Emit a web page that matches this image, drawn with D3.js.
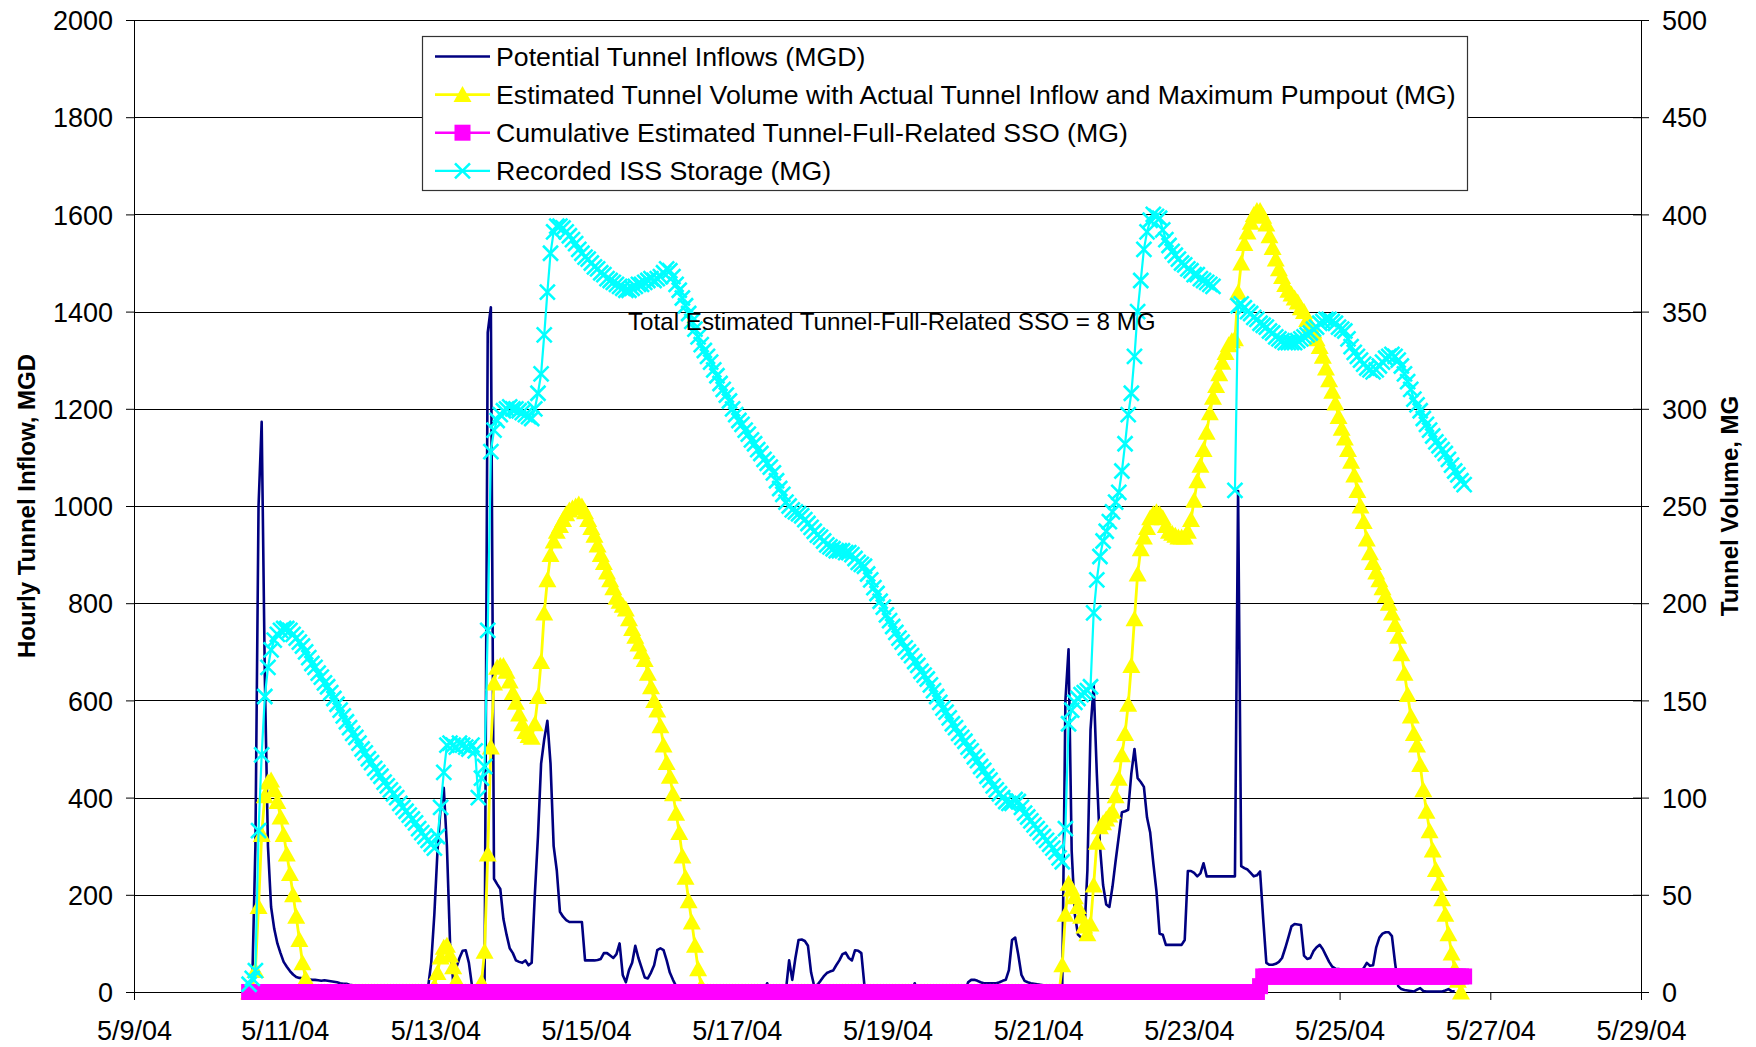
<!DOCTYPE html>
<html><head><meta charset="utf-8">
<script src="https://cdn.jsdelivr.net/npm/d3@7"></script>
<style>
html,body{margin:0;padding:0;background:#fff;}
svg{display:block;font-family:"Liberation Sans",Arial,sans-serif;}
</style></head>
<body><svg id="chart" width="1756" height="1047"></svg>
<script>
// ---------- data ----------
const seriesStart = "2004-05-10T12:40:00Z"; // first hourly reading
const xDomain = ["2004-05-09T00:00:00Z", "2004-05-29T00:00:00Z"];
const xTickDates = ["2004-05-09","2004-05-11","2004-05-13","2004-05-15","2004-05-17","2004-05-19","2004-05-21","2004-05-23","2004-05-25","2004-05-27","2004-05-29"];
const xTickLabels = ["5/9/04","5/11/04","5/13/04","5/15/04","5/17/04","5/19/04","5/21/04","5/23/04","5/25/04","5/27/04","5/29/04"];
const leftTicks = [0,200,400,600,800,1000,1200,1400,1600,1800,2000];
const rightTicks = [0,50,100,150,200,250,300,350,400,450,500];
const seriesNames = [
  "Potential Tunnel Inflows (MGD)",
  "Estimated Tunnel Volume with Actual Tunnel Inflow and Maximum Pumpout (MG)",
  "Cumulative Estimated Tunnel-Full-Related SSO (MG)",
  "Recorded ISS Storage (MG)"
];
const leftTitle = "Hourly Tunnel Inflow, MGD";
const rightTitle = "Tunnel Volume, MG";
const annotationText = "Total Estimated Tunnel-Full-Related SSO = 8 MG";

// Potential Tunnel Inflows (MGD), hourly
const inflowMGD = [
5,20,300,1000,1173,650,300,175,130,100,
80,62,52,43,36,31,29,28,27,26,
25,25,24,23,24,23,22,21,20,18,
17,17,15,14,12,10,8,6,4,2,
0,0,0,0,0,0,0,0,0,0,
0,0,0,0,0,0,0,
10,60,160,290,380,420,300,100,20,50,
70,85,86,60,12,0,0,0,20,1357,
1409,233,222,
212,150,118,90,80,65,62,60,65,55,
60,200,320,470,520,558,470,300,250,165,
155,148,144,144,144,144,144,65,65,65,
65,66,68,80,80,75,70,78,100,35,
20,45,60,95,70,50,30,28,40,55,
86,90,86,65,40,25,12,
0,0,0,0,0,0,0,0,0,0,
0,0,0,0,0,0,0,0,0,0,
0,0,0,0,0,0,0,0,
18,0,0,0,0,0,5,65,25,70,
107,108,105,95,40,12,15,23,32,39,
42,44,55,65,78,81,70,65,86,85,
80,12,
0,0,0,0,0,0,0,0,0,0,
0,0,0,0,0,
18,
0,0,0,0,0,0,0,0,0,0,
0,0,0,0,0,0,
20,25,25,23,20,18,18,18,18,18,
20,23,25,45,107,112,76,35,23,20,
18,17,16,15,14,13,13,12,12,12,
15,600,705,290,160,118,112,115,250,540,
632,450,300,220,180,175,217,270,320,370,
372,375,450,500,440,432,422,359,328,265,
207,120,118,97,97,97,97,97,97,107,
249,249,245,238,244,265,238,238,238,238,
238,238,238,238,238,238,1031,259,255,252,
245,238,240,248,150,60,56,56,58,62,
70,90,112,135,140,139,138,75,68,
70,84,92,97,88,75,62,52,48,47,
46,45,44,42,40,40,42,49,60,54,
55,92,112,120,123,123,115,60,12,6,
4,3,2,1,5,8,2,1,1,1,
1,1,1,3,6,2,1,null,null,null
];

// Estimated Tunnel Volume with Actual Tunnel Inflow and Maximum Pumpout (MG), hourly
const tunnelVolumeMG = [
0,2,11,44,81,101,108,109,104,98,
90,81,71,61,50,39,27,15,7,
0,0,0,0,0,0,0,0,0,0,
0,0,0,0,0,0,0,0,0,0,
0,0,0,0,0,0,0,0,0,0,
0,0,0,0,0,0,0,0,0,0,
3,10,18,23,24,19,13,6,
0,0,0,0,0,0,0,
5,21,71,126,159,167,168,168,165,160,
154,149,143,138,134,132,131,138,152,170,
195,212,225,232,237,240,243,246,248,249,
250,251,250,247,243,239,235,230,225,221,
216,212,208,203,201,199,197,192,187,183,
179,175,171,164,157,150,145,137,127,118,
111,102,92,82,70,59,47,36,24,12,
3,
0,0,0,0,0,0,0,0,0,0,
0,0,0,0,0,0,0,0,0,0,
0,0,0,0,0,0,0,0,0,0,
0,0,0,0,0,0,0,0,0,0,
0,0,0,0,0,0,0,0,0,0,
0,0,0,0,0,0,0,0,0,0,
0,0,0,0,0,0,0,0,0,0,
0,0,0,0,0,0,0,0,0,0,
0,0,0,0,0,0,0,0,0,0,
0,0,0,0,0,0,0,0,0,0,
0,0,0,0,0,0,0,0,0,0,
0,0,0,0,
14,40,56,53,49,44,39,34,30,35,
55,77,85,87,89,91,93,101,110,122,
133,148,168,192,215,228,234,239,244,246,
247,246,244,240,237,236,235,234,234,234,
237,243,253,263,271,279,288,298,306,312,
318,324,329,333,335,336,360,375,385,391,
396,400,402,402,399,395,389,383,377,372,
368,364,361,359,357,355,352,350,346,343,
340,336,332,327,321,315,309,303,296,290,
285,279,273,266,258,250,242,233,226,221,
216,212,208,204,200,195,189,183,174,164,
153,142,133,127,117,104,93,83,73,63,
56,48,40,30,20,12,6,0,
null
];

// Cumulative Estimated Tunnel-Full-Related SSO (MG), hourly
const cumulativeSsoMG = [
0,0,0,0,0,0,0,0,0,0, 0,0,0,0,0,0,0,0,0,0,
0,0,0,0,0,0,0,0,0,0, 0,0,0,0,0,0,0,0,0,0,
0,0,0,0,0,0,0,0,0,0, 0,0,0,0,0,0,0,0,0,0,
0,0,0,0,0,0,0,0,0,0, 0,0,0,0,0,0,0,0,0,0,
0,0,0,0,0,0,0,0,0,0, 0,0,0,0,0,0,0,0,0,0,
0,0,0,0,0,0,0,0,0,0, 0,0,0,0,0,0,0,0,0,0,
0,0,0,0,0,0,0,0,0,0, 0,0,0,0,0,0,0,0,0,0,
0,0,0,0,0,0,0,0,0,0, 0,0,0,0,0,0,0,0,0,0,
0,0,0,0,0,0,0,0,0,0, 0,0,0,0,0,0,0,0,0,0,
0,0,0,0,0,0,0,0,0,0, 0,0,0,0,0,0,0,0,0,0,
0,0,0,0,0,0,0,0,0,0, 0,0,0,0,0,0,0,0,0,0,
0,0,0,0,0,0,0,0,0,0, 0,0,0,0,0,0,0,0,0,0,
0,0,0,0,0,0,0,0,0,0, 0,0,0,0,0,0,0,0,0,0,
0,0,0,0,0,0,0,0,0,0, 0,0,0,0,0,0,0,0,0,0,
0,0,0,0,0,0,0,0,0,0, 0,0,0,0,0,0,0,0,0,0,
0,0,0,0,0,0,0,0,0,0, 0,0,0,0,0,0,0,0,0,0,
0,0,
3,
8,8,8,8,8,8,8,8,8,8, 8,8,8,8,8,8,8,8,8,8,
8,8,8,8,8,8,8,8,8,8, 8,8,8,8,8,8,8,8,8,8,
8,8,8,8,8,8,8,8,8,8, 8,8,8,8,8,8,8,8,8,8,
8,8,8,8,8
];

// Recorded ISS Storage (MG), hourly
const issStorageMG = [
4,7,11,83,122,152,167,176,181,184,
186,187,187,186,184,182,180,178,175,172,
169,167,164,162,159,157,154,151,148,145,
142,139,136,133,131,128,125,123,120,118,
115,113,111,108,106,104,102,100,97,95,
93,91,89,87,84,82,80,78,76,74,
80,95,113,127,128,127,126,128,127,126,
125,127,124,100,110,116,186,278,289,294,
297,299,300,301,300,300,299,298,297,296,
295,300,308,318,338,360,380,391,394,394,
393,391,389,387,385,382,380,378,377,375,
373,372,370,369,367,366,365,364,363,362,
361,361,362,363,364,364,365,366,367,366,
367,368,370,372,371,368,364,361,357,353,
349,345,341,337,333,330,327,324,320,317,
313,310,307,304,300,297,294,292,289,287,
284,282,279,277,274,272,270,267,263,259,
256,252,250,248,247,246,245,243,241,239,
237,235,234,232,230,229,228,227,227,227,
226,226,225,223,221,220,219,215,212,208,
205,201,198,194,191,188,185,182,180,177,
175,173,170,168,165,163,161,158,155,152,
149,146,144,141,138,136,133,131,129,126,
124,121,119,116,114,111,109,106,104,102,
100,98,97,97,99,98,95,92,90,88,
86,84,82,80,78,76,74,72,69,67,
84,138,145,149,151,153,154,155,157,195,
212,224,232,237,242,247,252,257,268,282,
297,308,327,350,366,382,391,397,400,399,
398,392,387,384,381,379,377,375,374,372,
371,369,369,367,366,365,364,363,
null,null,null,null,null,null,
258,353,354,352,350,349,
347,346,344,343,342,340,339,337,336,335,
334,334,334,334,335,336,337,338,339,341,
342,344,345,346,346,345,344,342,341,340,
336,332,329,327,325,323,321,320,319,320,
322,324,326,327,328,327,325,322,318,314,
310,305,302,299,295,292,289,286,283,281,
279,277,274,271,268,266,263,261
];

// ---------- chart ----------
const M = {left: 134, right: 1641, top: 20, bottom: 992};
const svg = d3.select("#chart");

const x = d3.scaleUtc().domain(xDomain.map(s => new Date(s))).range([M.left, M.right]);
const yL = d3.scaleLinear().domain([0, 2000]).range([M.bottom, M.top]);
const yR = d3.scaleLinear().domain([0, 500]).range([M.bottom, M.top]);

const t0 = new Date(seriesStart).getTime();
const toPoints = arr => arr.map((v, i) => ({t: new Date(t0 + i * 3600e3), v}));

// gridlines
svg.append("g").selectAll("line").data(leftTicks).join("line")
  .attr("x1", M.left).attr("x2", M.right)
  .attr("y1", d => Math.round(yL(d)) + 0.5).attr("y2", d => Math.round(yL(d)) + 0.5)
  .attr("stroke", "#000").attr("stroke-width", 1);

// axes
const fs = "27px";
const gL = svg.append("g").attr("transform", `translate(${M.left},0)`)
  .call(d3.axisLeft(yL).tickValues(leftTicks).tickFormat(d3.format("d"))
    .tickSize(8).tickPadding(13).tickSizeOuter(0));
const gR = svg.append("g").attr("transform", `translate(${M.right},0)`)
  .call(d3.axisRight(yR).tickValues(rightTicks).tickFormat(d3.format("d"))
    .tickSize(8).tickPadding(13).tickSizeOuter(0));
gR.selectAll(".tick").append("line").attr("x2", -8).attr("stroke", "#000");
const gB = svg.append("g").attr("transform", `translate(0,${M.bottom})`)
  .call(d3.axisBottom(x).tickValues(xTickDates.map(s => new Date(s + "T00:00:00Z")))
    .tickFormat((d, i) => xTickLabels[i]).tickSize(8).tickPadding(21).tickSizeOuter(0));
[gL, gR, gB].forEach(g => {
  g.selectAll("text").attr("font-size", fs).attr("fill", "#000")
    .attr("font-family", '"Liberation Sans",Arial,sans-serif');
  g.selectAll("path,line").attr("stroke", "#000");
});
gL.selectAll("text").attr("dy", "0.36em");
gR.selectAll("text").attr("dy", "0.36em");

// axis titles
svg.append("text").attr("transform", `translate(26,506) rotate(-90)`)
  .attr("text-anchor", "middle").attr("dominant-baseline", "central")
  .attr("font-size", "24px").attr("font-weight", "bold").text(leftTitle);
svg.append("text").attr("transform", `translate(1729,506) rotate(-90)`)
  .attr("text-anchor", "middle").attr("dominant-baseline", "central")
  .attr("font-size", "24px").attr("font-weight", "bold").text(rightTitle);

// series
const plot = svg.append("g");
const triPath = "M0,-8.5L9,7.5L-9,7.5Z";
const xPath = "M-7.5,-7.5L7.5,7.5M-7.5,7.5L7.5,-7.5";
const SQ = 16;

// 1. inflow (left axis)
const inflowPts = toPoints(inflowMGD);
plot.append("path").datum(inflowPts)
  .attr("d", d3.line().defined(d => d.v != null).x(d => x(d.t)).y(d => yL(d.v)))
  .attr("fill", "none").attr("stroke", "#000080").attr("stroke-width", 2.6)
  .attr("stroke-linejoin", "round");

// 2. tunnel volume (right axis)
const volPts = toPoints(tunnelVolumeMG);
plot.append("path").datum(volPts)
  .attr("d", d3.line().defined(d => d.v != null).x(d => x(d.t)).y(d => yR(d.v)))
  .attr("fill", "none").attr("stroke", "#FFFF00").attr("stroke-width", 2.8);
plot.append("g").selectAll("path").data(volPts.filter(d => d.v != null)).join("path")
  .attr("d", triPath).attr("fill", "#FFFF00")
  .attr("transform", d => `translate(${x(d.t)},${yR(d.v)})`);

// 3. cumulative SSO (right axis)
const ssoPts = toPoints(cumulativeSsoMG);
plot.append("path").datum(ssoPts)
  .attr("d", d3.line().defined(d => d.v != null).x(d => x(d.t)).y(d => yR(d.v)))
  .attr("fill", "none").attr("stroke", "#FF00FF").attr("stroke-width", 2.5);
plot.append("g").selectAll("rect").data(ssoPts.filter(d => d.v != null)).join("rect")
  .attr("x", d => x(d.t) - SQ / 2).attr("y", d => yR(d.v) - SQ / 2)
  .attr("width", SQ).attr("height", SQ).attr("fill", "#FF00FF");

// 4. ISS storage (right axis)
const issPts = toPoints(issStorageMG);
plot.append("path").datum(issPts)
  .attr("d", d3.line().defined(d => d.v != null).x(d => x(d.t)).y(d => yR(d.v)))
  .attr("fill", "none").attr("stroke", "#00FFFF").attr("stroke-width", 2.2);
plot.append("g").selectAll("path").data(issPts.filter(d => d.v != null)).join("path")
  .attr("d", xPath).attr("fill", "none").attr("stroke", "#00FFFF").attr("stroke-width", 2.6)
  .attr("transform", d => `translate(${x(d.t)},${yR(d.v)})`);

// annotation
svg.append("text").attr("x", 628).attr("y", 330).attr("font-size", "24.2px")
  .attr("fill", "#000").text(annotationText);

// legend
const leg = svg.append("g");
leg.append("rect").attr("x", 422.5).attr("y", 36.5).attr("width", 1045).attr("height", 154)
  .attr("fill", "#fff").attr("stroke", "#333").attr("stroke-width", 1.2);
const legStyles = [
  {color: "#000080", w: 2.6, marker: null},
  {color: "#FFFF00", w: 2.8, marker: "tri"},
  {color: "#FF00FF", w: 2.5, marker: "sq"},
  {color: "#00FFFF", w: 2.2, marker: "x"}
];
seriesNames.forEach((name, k) => {
  const cy = 56.5 + k * 38.1;
  const s = legStyles[k];
  const row = leg.append("g");
  row.append("line").attr("x1", 435).attr("x2", 490).attr("y1", cy).attr("y2", cy)
    .attr("stroke", s.color).attr("stroke-width", s.w);
  if (s.marker === "tri") row.append("path").attr("d", triPath).attr("fill", s.color)
    .attr("transform", `translate(462.5,${cy})`);
  if (s.marker === "sq") row.append("rect").attr("x", 462.5 - SQ / 2).attr("y", cy - SQ / 2)
    .attr("width", SQ).attr("height", SQ).attr("fill", s.color);
  if (s.marker === "x") row.append("path").attr("d", xPath).attr("fill", "none")
    .attr("stroke", s.color).attr("stroke-width", 2.6).attr("transform", `translate(462.5,${cy})`);
  row.append("text").attr("x", 496).attr("y", cy).attr("dy", "0.36em")
    .attr("font-size", "26.7px").attr("fill", "#000").text(name);
});
</script>
</body></html>
